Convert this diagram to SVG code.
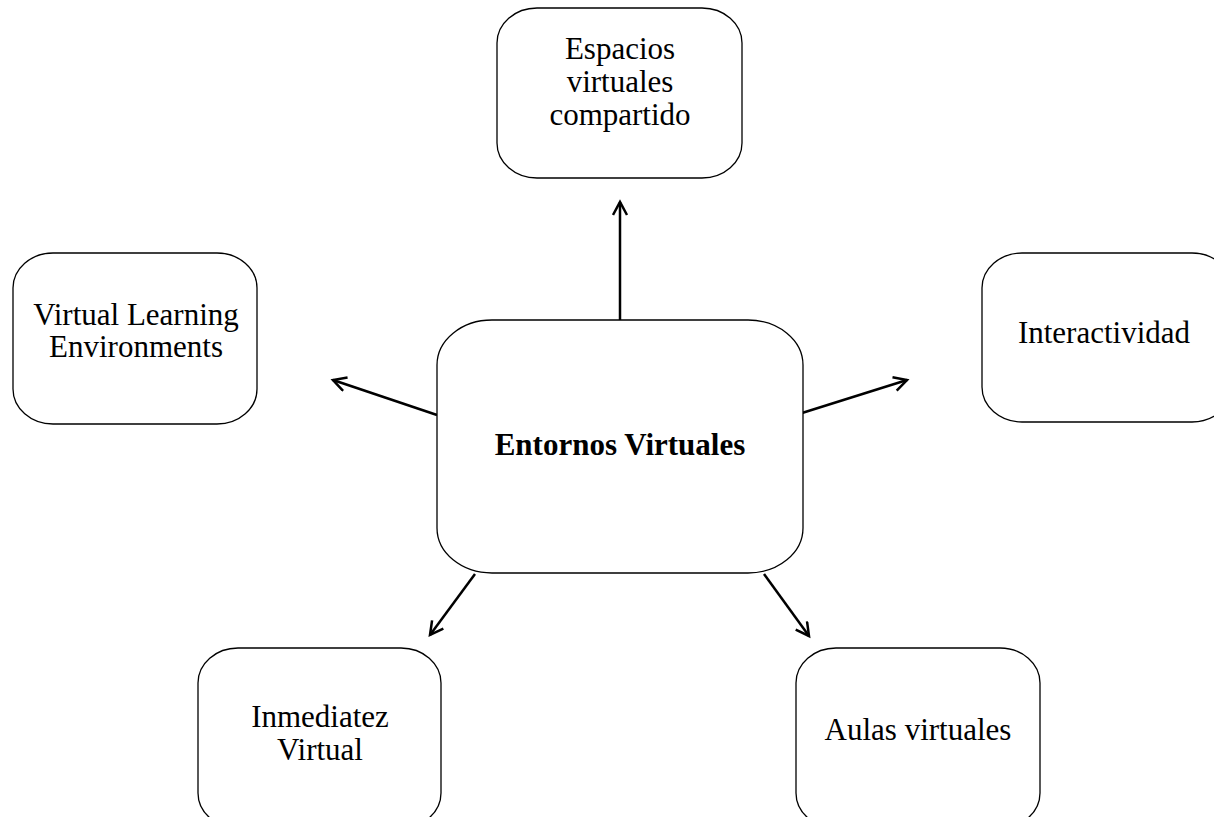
<svg xmlns="http://www.w3.org/2000/svg" width="1214" height="817" viewBox="0 0 1214 817">
<style>
.box{fill:#fff;stroke:#000;stroke-width:1.3}
.t{font-family:"Liberation Serif","Times New Roman",serif;font-size:31px;fill:#000;text-anchor:middle}
.b{font-weight:bold}
.c{stroke:#000;stroke-width:2.5;fill:none}
</style>
<defs>
<marker id="ah" markerWidth="20" markerHeight="20" refX="14" refY="8" orient="auto" markerUnits="userSpaceOnUse">
<path d="M1,1 L14,8 L1,15" fill="none" stroke="#000" stroke-width="2.5"/>
</marker>
</defs>
<rect width="1214" height="817" fill="#fff"/>
<g id="connectors">
<line class="c" x1="620" y1="320" x2="620" y2="202" marker-end="url(#ah)"/>
<line class="c" x1="437" y1="415" x2="333" y2="380" marker-end="url(#ah)"/>
<line class="c" x1="802" y1="413" x2="907" y2="380" marker-end="url(#ah)"/>
<line class="c" x1="475" y1="574" x2="430" y2="635" marker-end="url(#ah)"/>
<line class="c" x1="764" y1="574" x2="809" y2="636" marker-end="url(#ah)"/>
</g>
<g id="center">
<rect class="box" x="437" y="320" width="366" height="253" rx="55" ry="45"/>
<text class="t b" x="620" y="455">Entornos Virtuales</text>
</g>
<g id="espacios">
<rect class="box" x="497" y="8" width="245" height="170" rx="40" ry="35"/>
<text class="t" x="620" y="59">Espacios</text>
<text class="t" x="620" y="92">virtuales</text>
<text class="t" x="620" y="125">compartido</text>
</g>
<g id="vle">
<rect class="box" x="13" y="253" width="244" height="171" rx="40" ry="35"/>
<text class="t" x="136" y="325">Virtual Learning</text>
<text class="t" x="136" y="357">Environments</text>
</g>
<g id="interactividad">
<rect class="box" x="982" y="253" width="250" height="169" rx="40" ry="35"/>
<text class="t" x="1104" y="343">Interactividad</text>
</g>
<g id="inmediatez">
<rect class="box" x="198" y="648" width="243" height="180" rx="40" ry="35"/>
<text class="t" x="320" y="727">Inmediatez</text>
<text class="t" x="320" y="760">Virtual</text>
</g>
<g id="aulas">
<rect class="box" x="796" y="648" width="244" height="180" rx="40" ry="35"/>
<text class="t" x="918" y="740">Aulas virtuales</text>
</g>
</svg>
